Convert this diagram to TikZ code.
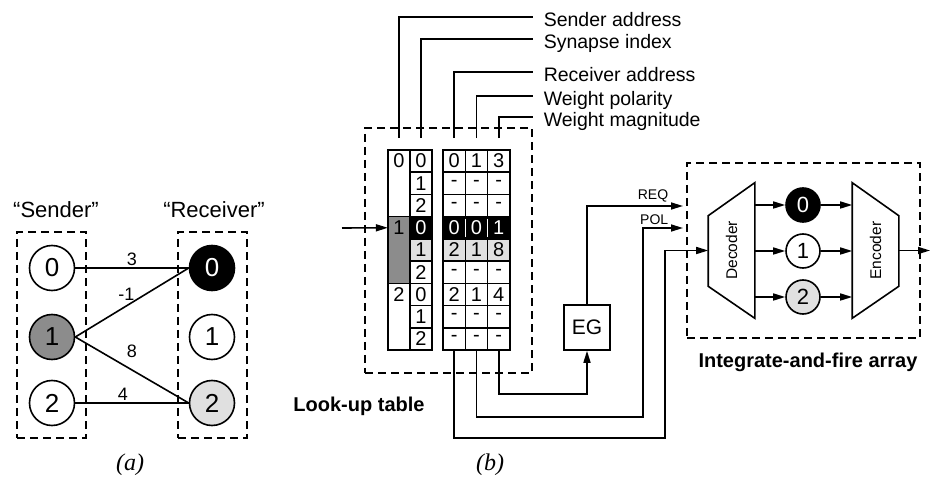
\documentclass[tikz,border=0pt]{standalone}
\usepackage{fontspec}
\setmainfont{Liberation Sans}
\newfontfamily\capfont{Liberation Serif}
\usetikzlibrary{arrows.meta, positioning, calc}

\begin{document}
\begin{tikzpicture}[
    x=1pt, y=-1pt,
    line width=1.6pt,
    dbox/.style={draw, dash pattern=on 8pt off 5pt, line width=1.5pt, inner sep=0pt},
    cell/.style={draw, outer sep=0pt, minimum width=22.3pt, minimum height=22.2pt, inner sep=0pt, font=\fontsize{20}{20}\selectfont},
    hot/.style={cell, fill=black, text=white},
    warm/.style={cell, fill=black!12},
    neuron/.style={circle, draw, minimum size=45pt, inner sep=0pt, font=\fontsize{26}{26}\selectfont},
    ifcell/.style={circle, draw, minimum size=34pt, inner sep=0pt, font=\fontsize{22}{22}\selectfont},
    field/.style={anchor=west, inner xsep=10pt, inner ysep=0pt, text height=19pt, text depth=0pt, font=\fontsize{19.5}{19.5}\selectfont},
    weight/.style={font=\fontsize{18}{18}\selectfont, inner sep=2pt},
    sig/.style={font=\fontsize{14}{14}\selectfont, inner sep=1pt},
    title/.style={font=\bfseries\fontsize{20}{20}\selectfont},
    caption/.style={font=\capfont\itshape\fontsize{24}{24}\selectfont},
    arrow/.style={-{Triangle[length=12pt, width=7pt]}}
    ]
    \useasboundingbox (0,0) rectangle (930,481);

    % (a) senders and receivers
    \node[dbox, minimum width=69pt, minimum height=206pt] (sbox) at (51.5,335) {};
    \node[dbox, minimum width=69pt, minimum height=206pt] (rbox) at (212.5,335) {};
    \node[font=\fontsize{22}{22}\selectfont] (slab) at (56,210) {“Sender”};
    \node[font=\fontsize{22}{22}\selectfont] (rlab) at (214,210) {“Receiver”};

    \node[neuron] (snd0) at (52,268) {0};
    \node[neuron, fill=black!45] (snd1) at (52,337) {1};
    \node[neuron] (snd2) at (52,403) {2};
    \node[neuron, fill=black, text=white] (rec0) at (212,268) {0};
    \node[neuron] (rec1) at (212,337) {1};
    \node[neuron, fill=black!12] (rec2) at (212,403) {2};

    \draw (snd0) -- node[weight, above] (w0) {3} (rec0);
    \draw (snd1.east) -- node[weight, pos=0.45, above=3pt] (w1) {-1} (rec0.west);
    \draw (snd1.east) -- node[weight, midway, above=10pt] (w2) {8} (rec2.west);
    \draw (snd2) -- node[weight, pos=0.42, above] (w3) {4} (rec2);

    \node[caption] (capa) at (130,465) {(a)};

    % (b) look-up table
    \node[dbox, minimum width=167pt, minimum height=245pt] (lut) at (448.5,250.5) {};
    \node[title] (lutlab) at (359,406) {Look-up table};

    \foreach \g/\y/\f in {0/183.3/white, 1/250/black!45, 2/316.7/white} {
        \node[cell, fill=\f, minimum height=66.7pt] (grp\g) at (399,\y) {};
        \node[cell, draw=none, anchor=north] (gt\g) at (grp\g.north) {\g};
    }
    \foreach \r/\s/\st in {1/0/cell, 2/1/cell, 3/2/cell, 4/0/hot, 5/1/warm, 6/2/cell, 7/0/cell, 8/1/cell, 9/2/cell}
        \node[\st] (syn\r) at (421, {150+22.22*(\r-0.5)}) {\s};
    \foreach \r/\a/\b/\c/\st in {1/0/1/3/cell, 2/-/-/-/cell, 3/-/-/-/cell, 4/0/0/1/hot, 5/2/1/8/warm,
                                 6/-/-/-/cell, 7/2/1/4/cell, 8/-/-/-/cell, 9/-/-/-/cell} {
        \node[\st] (addr\r) at (454.2, {150+22.22*(\r-0.5)}) {\a};
        \node[\st, right=0pt of addr\r] (pol\r) {\b};
        \node[\st, right=0pt of pol\r] (mag\r) {\c};
    }
    \draw[white, line width=1pt] ([yshift=-2pt]addr4.north east) -- ([yshift=2pt]addr4.south east);
    \draw[white, line width=1pt] ([yshift=-2pt]pol4.north east) -- ([yshift=2pt]pol4.south east);

    \coordinate (lutin) at (342,228);
    \draw[arrow] (lutin) -- (grp1.west |- syn4);

    % field names
    \node[field] (fsend) at (533,17) {Sender address};
    \node[field] (fsyn) at (533,39) {Synapse index};
    \node[field] (faddr) at (533,72) {Receiver address};
    \node[field] (fpol) at (533,96) {Weight polarity};
    \node[field] (fmag) at (533,117) {Weight magnitude};
    \draw ($(grp0.north)+(0,-12)$) |- (fsend.west);
    \draw ($(syn1.north)+(0,-12)$) |- (fsyn.west);
    \draw ($(addr1.north)+(0,-12)$) |- (faddr.west);
    \draw ($(pol1.north)+(0,-12)$) |- (fpol.west);
    \draw ($(mag1.north)+(0,-12)$) |- (fmag.west);

    % event generator
    \node[draw, minimum width=46pt, minimum height=45pt, font=\fontsize{21}{21}\selectfont] (eg) at (587,327.5) {EG};

    % integrate-and-fire array
    \node[dbox, minimum width=233pt, minimum height=175pt] (ifa) at (803.5,250.5) {};
    \node[title] (ifalab) at (808,362) {Integrate-and-fire array};

    \node[minimum width=45pt, minimum height=134pt, inner sep=0pt] (dec) at (731.5,250.5) {};
    \draw (dec.north east) -- (dec.south east) -- ($(dec.south west)+(0,-32)$) -- ($(dec.north west)+(0,33)$) -- cycle;
    \node[rotate=90, font=\fontsize{15.5}{15.5}\selectfont] (dectxt) at (dec) {Decoder};
    \node[minimum width=45pt, minimum height=134pt, inner sep=0pt] (enc) at (875.5,250.5) {};
    \draw (enc.north west) -- ($(enc.north east)+(0,33)$) -- ($(enc.south east)+(0,-32)$) -- (enc.south west) -- cycle;
    \node[rotate=90, font=\fontsize{15.5}{15.5}\selectfont] (enctxt) at (enc) {Encoder};

    \node[ifcell, fill=black, text=white] (n0) at (803,205) {0};
    \node[ifcell] (n1) at (803,251) {1};
    \node[ifcell, fill=black!12] (n2) at (803,297) {2};
    \foreach \i in {0,1,2} {
        \draw[arrow] (dec.east |- n\i) -- (n\i);
        \draw[arrow] (n\i) -- (enc.west |- n\i);
    }
    \coordinate (out) at (930,250.5);
    \draw[arrow] (enc.east) -- (out);

    % wiring
    \coordinate (reqin) at (683,206);
    \coordinate (polin) at (683,228);
    \draw[arrow] (mag9.south) -- ++(0,44) -| (eg.south);
    \draw[arrow] (eg.north) |- (reqin);
    \draw[arrow] (pol9.south) -- ++(0,67) -| ($(polin)+(-40,0)$) -- (polin);
    \draw[arrow] (addr9.south) -- ++(0,88) -| ($(dec.west)+(-43,0)$) -- (dec.west);
    \node[sig, above left=2pt and 13pt of reqin] (req) {REQ};
    \node[sig, above left=2pt and 13pt of polin] (pollab) {POL};

    \node[caption] (capb) at (490,465) {(b)};
\end{tikzpicture}
\end{document}
